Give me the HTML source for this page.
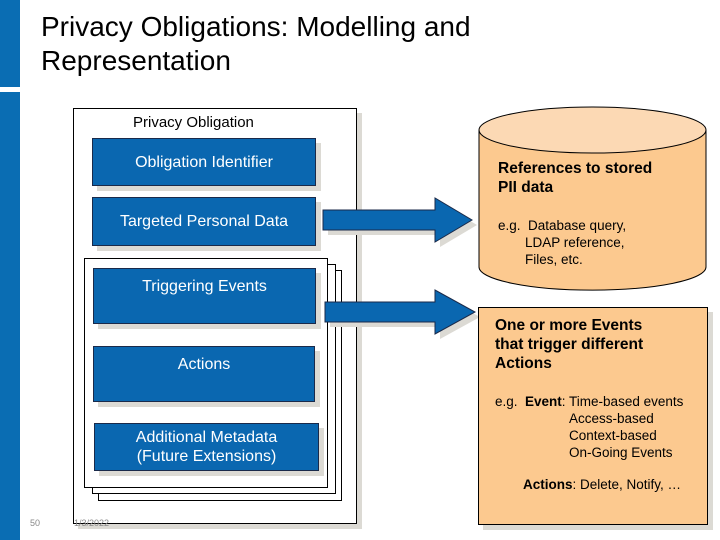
<!DOCTYPE html>
<html><head><style>
body{margin:0;width:720px;height:540px;background:#fff;position:relative;overflow:hidden;font-family:"Liberation Sans",sans-serif}
.a{position:absolute}
.b{position:absolute;background:#0a67b0;border:1px solid #1a2a4a;color:#fff;font-size:16px;text-align:center;box-shadow:5px 5px 0 #dcdad4}
.pg{position:absolute;background:#fff;border:1px solid #000}
</style></head><body>
<div class="a" style="left:0;top:0;width:20px;height:87px;background:#0a6db3"></div>
<div class="a" style="left:0;top:92px;width:20px;height:448px;background:#0a6db3"></div>
<div class="a" style="left:41px;top:10px;font-size:28px;line-height:34px;color:#000">Privacy Obligations: Modelling and<br>Representation</div>

<div class="pg" style="left:73px;top:108px;width:282px;height:414px;box-shadow:5px 5px 0 #dcdad4"></div>
<div class="a" style="left:133px;top:114px;font-size:15px">Privacy Obligation</div>
<div class="b" style="left:92px;top:138px;width:222px;height:46px"><div style="margin-top:15px">Obligation Identifier</div></div>
<div class="b" style="left:92px;top:197px;width:222px;height:47px"><div style="margin-top:15px">Targeted Personal Data</div></div>

<div class="pg" style="left:98px;top:270px;width:242px;height:229px"></div>
<div class="pg" style="left:92px;top:264px;width:242px;height:228px"></div>
<div class="pg" style="left:84px;top:258px;width:242px;height:228px"></div>
<div class="b" style="left:93px;top:268px;width:221px;height:54px"><div style="margin-top:9px">Triggering Events</div></div>
<div class="b" style="left:93px;top:346px;width:220px;height:54px"><div style="margin-top:9px">Actions</div></div>
<div class="b" style="left:94px;top:423px;width:223px;height:46px;line-height:19px"><div style="margin-top:4px">Additional Metadata<br>(Future Extensions)</div></div>

<svg class="a" style="left:0;top:0" width="720" height="540">
<polygon points="328,215 440,215 440,203 477,225 440,247 440,235 328,235" fill="#dcdad4"/>
<polygon points="323,210 435,210 435,198 472,220 435,242 435,230 323,230" fill="#0a67b0" stroke="#1a2a4a" stroke-width="1"/>
<polygon points="330,307 440,307 440,295 480,317 440,339 440,327 330,327" fill="#dcdad4"/>
<polygon points="325,302 435,302 435,290 475,312 435,334 435,322 325,322" fill="#0a67b0" stroke="#1a2a4a" stroke-width="1"/>
<path d="M479,130 L479,267 A113,23 0 0 0 706,267 L706,130" fill="#fcc98f" stroke="#000"/>
<ellipse cx="592.5" cy="130" rx="113.5" ry="23" fill="#fcd9b4" stroke="#000"/>
</svg>
<div class="a" style="left:498px;top:159px;font-size:15.5px;font-weight:bold;line-height:19px">References to stored<br>PII data</div>
<div class="a" style="left:498px;top:217px;font-size:13.5px;line-height:17px;white-space:nowrap">e.g.&nbsp; Database query,<br><span style="padding-left:27px">LDAP reference,</span><br><span style="padding-left:27px">Files, etc.</span></div>

<div class="a" style="left:478px;top:307px;width:228px;height:216px;background:#fcc98f;border:1px solid #000;box-shadow:5px 5px 0 #dcdad4"></div>
<div class="a" style="left:495px;top:316px;font-size:15.5px;font-weight:bold;line-height:19px;white-space:nowrap">One or more Events<br>that trigger different<br>Actions</div>
<div class="a" style="left:495px;top:393px;font-size:13.5px;line-height:17px;white-space:nowrap">e.g.&nbsp; <b>Event</b>: Time-based events<br><span style="padding-left:74px">Access-based</span><br><span style="padding-left:74px">Context-based</span><br><span style="padding-left:74px">On-Going Events</span></div>
<div class="a" style="left:523px;top:477px;font-size:13.5px;white-space:nowrap"><b>Actions</b>: Delete, Notify, …</div>
<div class="a" style="left:30px;top:518px;font-size:9px;color:#888">50</div>
<div class="a" style="left:74px;top:518px;font-size:9px;color:#888">1/3/2022</div>
</body></html>
